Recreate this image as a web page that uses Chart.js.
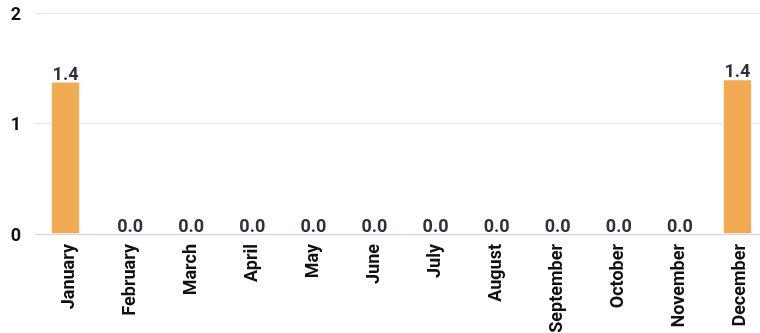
<!DOCTYPE html>
<html>
<head>
<meta charset="utf-8">
<script src="https://cdn.jsdelivr.net/npm/chart.js@4"></script>
<style>
  html, body { margin: 0; padding: 0; background: #fff; overflow: hidden; }
  #wrap { position: relative; width: 768px; height: 333px; }
</style>
</head>
<body>
<div id="wrap"><canvas id="myChart"></canvas></div>
<script>
const months = ['January', 'February', 'March', 'April', 'May', 'June', 'July',
                'August', 'September', 'October', 'November', 'December'];
const values = [1.38, 0, 0, 0, 0, 0, 0, 0, 0, 0, 0, 1.40];
const yTicks = [0, 1, 2];

// etiquetas de valor encima de cada barra
const valueLabels = {
    id: 'valueLabels',
    afterDatasetsDraw(chart) {
        const ctx = chart.ctx;
        const meta = chart.getDatasetMeta(0);
        ctx.save();
        ctx.font = 'bold 18px Roboto';
        ctx.fillStyle = '#2b323f';
        ctx.textAlign = 'center';
        ctx.textBaseline = 'alphabetic';
        meta.data.forEach((bar, i) => {
            const v = chart.data.datasets[0].data[i];
            // las etiquetas en cero quedan algo corridas a la derecha
            const dx = v === 0 ? 3.5 : 0;
            ctx.fillText(v.toFixed(1), bar.x + dx, bar.y - 2);
        });
        ctx.restore();
    }
};

const ctx = document.getElementById('myChart').getContext('2d');
new Chart(ctx, {
    type: 'bar',
    data: {
        labels: months,
        datasets: [{
            data: values,
            backgroundColor: '#f1ab55',
            borderColor: '#ffffff',
            borderWidth: 1,
            barPercentage: 0.6,
            categoryPercentage: 0.8
        }]
    },
    options: {
        responsive: true,
        maintainAspectRatio: false,
        animation: false,
        layout: { padding: { left: 0, top: 13, right: 0, bottom: 0 } },
        plugins: {
            legend: { display: false },
            tooltip: { enabled: false }
        },
        scales: {
            y: {
                min: 0,
                max: 2,
                afterBuildTicks: axis => { axis.ticks = yTicks.map(v => ({ value: v })); },
                afterFit: axis => {
                    axis.width = 35;
                    axis.paddingTop = 0;
                    axis.paddingBottom = 0;
                },
                border: { display: false },
                grid: {
                    drawTicks: false,
                    color: ctx => ctx.tick && ctx.tick.value === 0 ? '#c5d7ea' : '#dfe7f0'
                },
                ticks: {
                    padding: 14,
                    labelOffset: 2,
                    color: '#111',
                    font: { family: 'Roboto', size: 18, weight: 'bold' }
                }
            },
            x: {
                afterFit: axis => {
                    axis.height = 99;
                    axis.paddingLeft = 0;
                    axis.paddingRight = 0;
                },
                border: { display: false },
                grid: { display: false, drawTicks: false },
                ticks: {
                    padding: 10,
                    labelOffset: 3.5,
                    minRotation: 90,
                    maxRotation: 90,
                    autoSkip: false,
                    color: '#111',
                    font: { family: 'Roboto', size: 18, weight: 'bold' }
                }
            }
        }
    },
    plugins: [valueLabels]
});
</script>
</body>
</html>
